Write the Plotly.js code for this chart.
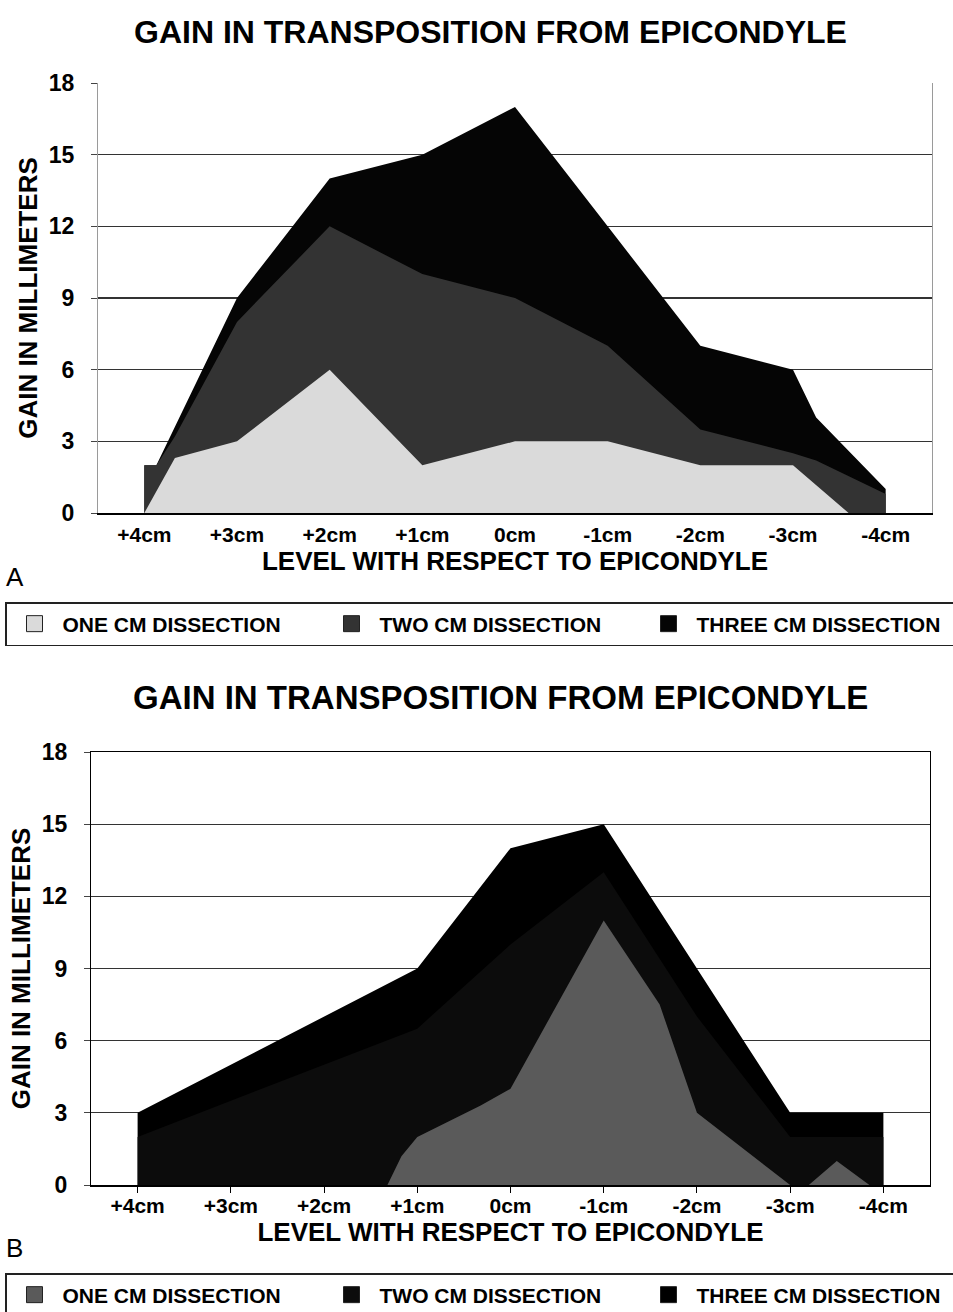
<!DOCTYPE html>
<html><head><meta charset="utf-8">
<script src="https://cdn.plot.ly/plotly-3.0.1.min.js"></script>
<style>html,body{margin:0;padding:0;background:#fff;} #chart{width:953px;height:1312px;}</style>
</head><body><div id="chart"></div>
<script>
// category axis (positions 0..8 carry these labels)
const tickPos = [0, 1, 2, 3, 4, 5, 6, 7, 8];
const tickLabels = ['+4cm', '+3cm', '+2cm', '+1cm', '0cm', '-1cm', '-2cm', '-3cm', '-4cm'];
const seriesNames = ['ONE CM DISSECTION', 'TWO CM DISSECTION', 'THREE CM DISSECTION'];

// Panel A: upper edge of each stacked band (mm)
const xOneA = [0, 0.33, 1, 2, 3, 4, 5, 6, 7, 7.6, 8];
const topOneA = [0, 2.3, 3, 6, 2, 3, 3, 2, 2, 0, 0];
const xTwoA = [0, 0.13, 0.33, 1, 2, 3, 4, 5, 6, 7, 7.25, 8];
const topTwoA = [2, 2, 3.2, 8, 12, 10, 9, 7, 3.5, 2.5, 2.2, 0.8];
const xThreeA = [0, 0.13, 1, 2, 3, 4, 5, 6, 7, 7.25, 8];
const topThreeA = [2, 2, 9, 14, 15, 17, 12, 7, 6, 4, 1];

// Panel B
const xOneB = [0, 1, 2, 2.68, 2.83, 3, 3.68, 4, 5, 5.6, 6, 7, 7.2, 7.5, 7.85, 8];
const topOneB = [0, 0, 0, 0, 1.2, 2, 3.3, 4, 11, 7.5, 3, 0, 0, 1, 0, 0];
const xTwoB = [0, 1, 2, 3, 4, 5, 6, 7, 8];
const topTwoB = [2, 3.5, 5, 6.5, 10, 13, 7, 2, 2];
const xThreeB = [0, 1, 2, 3, 4, 5, 6, 7, 8];
const topThreeB = [3, 5, 7, 9, 14, 15, 9, 3, 3];

const colorsA = ['#dadada', '#333333', '#050505'];
const colorsB = ['#5a5a5a', '#0c0c0c', '#000000'];

const FONT = 'Liberation Sans, Arial, sans-serif';

function area(x, y, name, color, xa, ya) {
  return {x: x, y: y, name: name, type: 'scatter', mode: 'lines', fill: 'tozeroy',
    fillcolor: color, line: {width: 0, color: color}, xaxis: xa, yaxis: ya,
    showlegend: false, hoverinfo: 'skip'};
}
function key(name, color, xa, ya, lg) {
  return {x: [null], y: [null], name: name, type: 'scatter', mode: 'markers',
    marker: {symbol: 'square', size: 18, color: color, line: {color: '#222', width: 1}},
    xaxis: xa, yaxis: ya, legend: lg, showlegend: true, hoverinfo: 'skip'};
}

const data = [
  area(xThreeA, topThreeA, seriesNames[2], colorsA[2], 'x', 'y'),
  area(xTwoA, topTwoA, seriesNames[1], colorsA[1], 'x', 'y'),
  area(xOneA, topOneA, seriesNames[0], colorsA[0], 'x', 'y'),
  area(xThreeB, topThreeB, seriesNames[2], colorsB[2], 'x2', 'y2'),
  area(xTwoB, topTwoB, seriesNames[1], colorsB[1], 'x2', 'y2'),
  area(xOneB, topOneB, seriesNames[0], colorsB[0], 'x2', 'y2')
];
for (let i = 0; i < 3; i++) data.push(key(seriesNames[i], colorsA[i], 'x', 'y', 'legend'));
for (let i = 0; i < 3; i++) data.push(key(seriesNames[i], colorsB[i], 'x2', 'y2', 'legend2'));

const W = 953, H = 1312;
function px(v) { return v / W; }
function py(v) { return 1 - v / H; }

function xAxis(domain, anchor, ticks, lineMirror, standoff) {
  return {domain: domain, anchor: anchor, range: [-0.5, 8.5], tickvals: tickPos, ticktext: tickLabels,
    showgrid: false, zeroline: false, showline: true, linecolor: '#000', linewidth: 1.5,
    mirror: lineMirror, ticks: ticks, ticklen: 6, tickcolor: '#000', tickwidth: 1,
    ticklabelstandoff: standoff, automargin: false,
    tickfont: {family: FONT, size: 21, color: '#000', weight: 700},
    title: {text: 'LEVEL WITH RESPECT TO EPICONDYLE', standoff: 4,
      font: {family: FONT, size: 26, color: '#000', weight: 700}},
    fixedrange: true};
}
function yAxis(domain, anchor, lineColor) {
  return {domain: domain, anchor: anchor, range: [0, 18], tickvals: [0, 3, 6, 9, 12, 15, 18],
    showgrid: true, gridcolor: '#333', gridwidth: 1.3, zeroline: false,
    showline: true, linecolor: lineColor, linewidth: 1, mirror: true,
    ticks: 'outside', ticklen: 6, tickcolor: '#444', ticklabelstandoff: 12, automargin: false,
    tickfont: {family: FONT, size: 23, color: '#000', weight: 700},
    title: {text: 'GAIN IN MILLIMETERS', standoff: 3,
      font: {family: FONT, size: 26, color: '#000', weight: 700}},
    fixedrange: true};
}
function legendCfg(top) {
  return {orientation: 'h', x: px(5), xanchor: 'left', y: py(top), yanchor: 'top',
    traceorder: 'normal', bordercolor: '#222', borderwidth: 1.5, bgcolor: '#fff',
    font: {family: FONT, size: 21, color: '#000', weight: 700}, itemsizing: 'trace',
    entrywidth: 256, entrywidthmode: 'pixels', itemwidth: 46, itemclick: false};
}

const layout = {
  width: W, height: H, margin: {l: 0, r: 0, t: 0, b: 0, autoexpand: false},
  paper_bgcolor: '#fff', plot_bgcolor: '#fff', showlegend: true,
  xaxis: xAxis([px(98), px(932)], 'y', '', false, 2),
  yaxis: yAxis([py(513), py(83)], 'x', '#9a9a9a'),
  xaxis2: xAxis([px(91), px(930)], 'y2', 'outside', true, -5),
  yaxis2: yAxis([py(1185), py(752)], 'x2', '#000'),
  legend: legendCfg(602),
  legend2: legendCfg(1273),
  annotations: [
    {text: 'GAIN IN TRANSPOSITION FROM EPICONDYLE', xref: 'paper', yref: 'paper',
      x: px(490), y: py(32), xanchor: 'center', yanchor: 'middle', showarrow: false,
      font: {family: FONT, size: 32, color: '#000', weight: 700}},
    {text: 'GAIN IN TRANSPOSITION FROM EPICONDYLE', xref: 'paper', yref: 'paper',
      x: px(500), y: py(697), xanchor: 'center', yanchor: 'middle', showarrow: false,
      font: {family: FONT, size: 33, color: '#000', weight: 700}},
    {text: 'A', xref: 'paper', yref: 'paper', x: px(15), y: py(577),
      xanchor: 'center', yanchor: 'middle', showarrow: false,
      font: {family: FONT, size: 26, color: '#000'}},
    {text: 'B', xref: 'paper', yref: 'paper', x: px(15), y: py(1248),
      xanchor: 'center', yanchor: 'middle', showarrow: false,
      font: {family: FONT, size: 26, color: '#000'}}
  ]
};

Plotly.newPlot('chart', data, layout, {staticPlot: true, displayModeBar: false});
</script>
</body></html>
